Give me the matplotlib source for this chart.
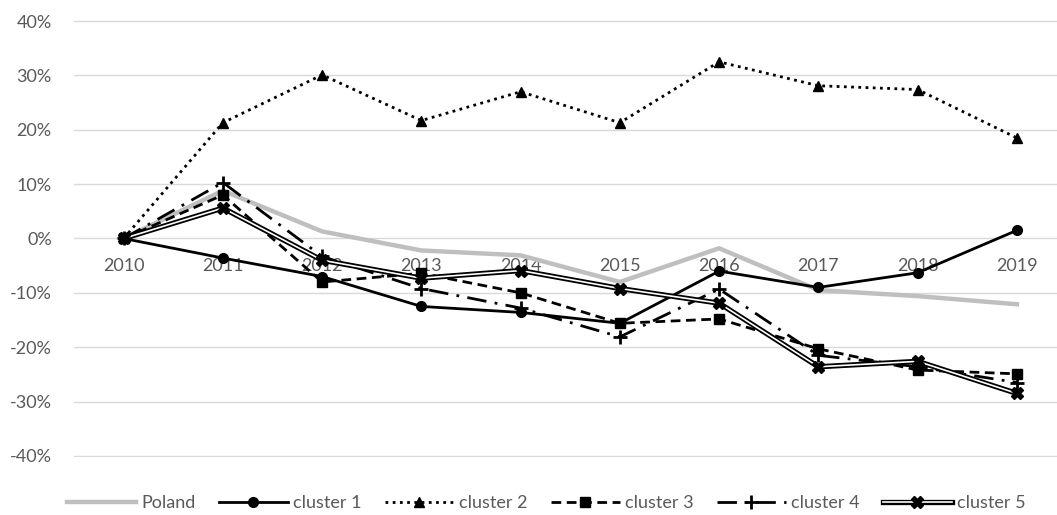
import numpy as np
import matplotlib
matplotlib.use("Agg")
import matplotlib.pyplot as plt
import matplotlib.patheffects as pe
from matplotlib.legend_handler import HandlerTuple

plt.rcParams['font.family'] = ['Lato', 'DejaVu Sans']

years = ['2010', '2011', '2012', '2013', '2014', '2015', '2016', '2017', '2018', '2019']
poland = [0.0, 8.8, 1.3, -2.2, -3.1, -8.0, -1.8, -9.5, -10.6, -12.1]
cluster1 = [0.0, -3.6, -7.0, -12.5, -13.6, -15.6, -6.0, -9.0, -6.3, 1.5]
cluster2 = [0.0, 21.3, 30.1, 21.7, 27.0, 21.3, 32.5, 28.1, 27.4, 18.5]
cluster3 = [0.0, 8.0, -8.0, -6.4, -10.0, -15.6, -14.8, -20.3, -24.2, -24.9]
cluster4 = [0.0, 10.3, -3.3, -9.2, -12.8, -18.1, -9.3, -21.5, -23.6, -26.5]
cluster5 = [0.0, 5.6, -4.0, -7.3, -5.9, -9.2, -11.9, -23.6, -22.6, -28.5]

x = np.arange(len(years))
to_frac = lambda v: np.array(v) / 100.0

fig = plt.figure(figsize=(10.57, 5.15), dpi=100)
ax = fig.add_axes([0.070, 0.1126, 0.939, 0.8486])

ax.plot(x, to_frac(poland), color='#bfbfbf', lw=3.2, label='Poland', zorder=2)
ax.plot(x, to_frac(cluster1), color='black', lw=2, marker='o', ms=7, label='cluster 1', zorder=3)
ax.plot(x, to_frac(cluster2), color='black', lw=2, ls=(0, (1, 1.6)), marker='^', ms=7, label='cluster 2', zorder=3)
ax.plot(x, to_frac(cluster3), color='black', lw=2, ls=(0, (3.5, 2)), marker='s', ms=7, label='cluster 3', zorder=3)
ax.plot(x, to_frac(cluster4), color='black', lw=2, ls=(0, (7, 3, 1, 3)), marker='+', ms=10, mew=2, label='cluster 4', zorder=3)

# cluster 5: double line (black outline, white core) with X markers
c5_line, = ax.plot(x, to_frac(cluster5), color='white', lw=1.2,
                   path_effects=[pe.Stroke(linewidth=3.8, foreground='black'), pe.Normal()], zorder=3)
c5_mark, = ax.plot(x, to_frac(cluster5), ls='none', marker='X', ms=8.5, mfc='black', mec='black', zorder=4)

ax.set_xlim(-0.5, 9.5)
ax.set_ylim(-0.402, 0.402)
ax.set_yticks(np.arange(-0.4, 0.41, 0.1))
ax.set_yticklabels([f'{v}%' for v in range(-40, 41, 10)])
ax.set_xticks(x)
ax.set_xticklabels(years)

ax.grid(axis='y', color='#d9d9d9', lw=1)
ax.set_axisbelow(True)
for s in ['top', 'right', 'left']:
    ax.spines[s].set_visible(False)
ax.spines['bottom'].set_position(('data', 0))
ax.spines['bottom'].set_visible(False)
ax.tick_params(axis='both', length=0, labelsize=13, labelcolor='#595959')
ax.tick_params(axis='y', pad=16)
ax.tick_params(axis='x', pad=14)

handles, labels = ax.get_legend_handles_labels()
handles.append((c5_line, c5_mark))
labels.append('cluster 5')
fig.legend(handles, labels, loc='center', bbox_to_anchor=(0.517, 0.023), ncol=6, frameon=False,
           fontsize=13, labelcolor='#595959', handlelength=3.8, handletextpad=0.3,
           columnspacing=1.3, handler_map={tuple: HandlerTuple(ndivide=1)})

fig.savefig('out.png', dpi=100)
